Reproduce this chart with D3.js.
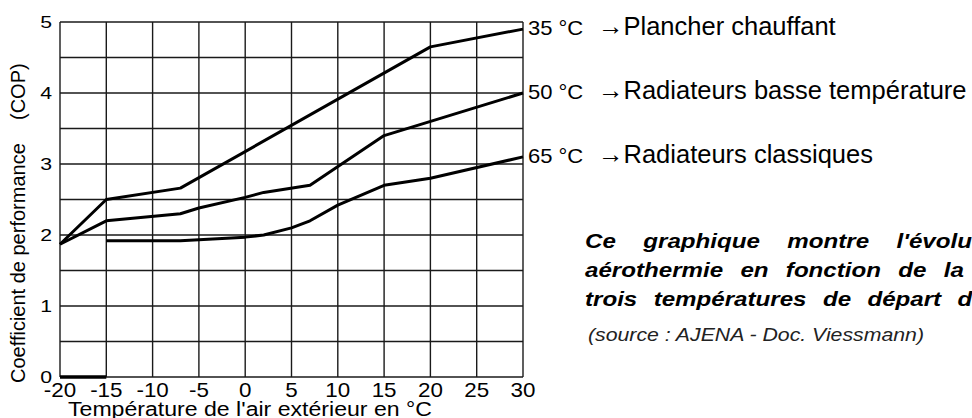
<!DOCTYPE html>
<html>
<head>
<meta charset="utf-8">
<script src="https://cdn.jsdelivr.net/npm/d3@7"></script>
<style>
  body { margin: 0; background: #fff; overflow: hidden; }
  text { font-family: "Liberation Sans", Arial, sans-serif; fill: #000; }
</style>
</head>
<body>
<div id="vis"></div>
<script>

// COP curves (outdoor temp in °C -> COP)
var temp35 = [-20, -15, -7, 20, 30];
var cop35  = [1.87, 2.5, 2.66, 4.65, 4.9];

var temp50 = [-20, -15, -7, -5, 0, 2, 7, 15, 30];
var cop50  = [1.87, 2.2, 2.3, 2.38, 2.53, 2.6, 2.7, 3.4, 4.0];

var temp65 = [-15, -7, 0, 2, 5, 7, 10, 15, 20, 30];
var cop65  = [1.92, 1.92, 1.97, 2.0, 2.1, 2.2, 2.42, 2.7, 2.8, 3.1];

// thick stub on the zero line
var tempBase = [-20, -15];
var copBase  = [0, 0];

var xTicks = [-20, -15, -10, -5, 0, 5, 10, 15, 20, 25, 30];
var yTicks = [0, 1, 2, 3, 4, 5];
var yGrid  = [0, 0.5, 1, 1.5, 2, 2.5, 3, 3.5, 4, 4.5, 5];

var seriesLabels = ["35 °C", "50 °C", "65 °C"];
var usageLabels  = ["→Plancher chauffant", "→Radiateurs basse température", "→Radiateurs classiques"];

var noteLines = [
  "Ce graphique montre l'évolution du COP d'une PAC en",
  "aérothermie en fonction de la température extérieure pour",
  "trois températures de départ d'eau."
];
var sourceText = "(source : AJENA - Doc. Viessmann)";

// set the dimensions and margins of the graph
var W = 972, H = 418;
var margin = {top: 22, left: 60},
    width = 463,
    height = 355;

// the scanned picture is a bit wider than tall, so text gets a small x stretch
var stretch = 1.1;

var x = d3.scaleLinear().domain([-20, 30]).range([0, width]);
var y = d3.scaleLinear().domain([0, 5]).range([height, 0]);

var line = d3.line()
    .x(function(d) { return x(d[0]); })
    .y(function(d) { return y(d[1]); });

var zip = function(a, b) { return a.map(function(v, i) { return [v, b[i]]; }); };

var at = function(px, py, s) {
  return "translate(" + px + "," + py + ") scale(" + s + ",1)";
};

var svgRoot = d3.select("#vis").append("svg")
    .attr("width", W)
    .attr("height", H);

var svg = svgRoot.append("g")
    .attr("transform", "translate(" + margin.left + "," + margin.top + ")");

// grid
svg.selectAll(".vgrid")
    .data(xTicks)
  .enter().append("line")
    .attr("x1", function(d) { return x(d); })
    .attr("x2", function(d) { return x(d); })
    .attr("y1", 0)
    .attr("y2", height)
    .attr("stroke", "#1a1a1a")
    .attr("stroke-width", 1.4);

svg.selectAll(".hgrid")
    .data(yGrid)
  .enter().append("line")
    .attr("x1", 0)
    .attr("x2", width)
    .attr("y1", function(d) { return y(d); })
    .attr("y2", function(d) { return y(d); })
    .attr("stroke", "#1a1a1a")
    .attr("stroke-width", 1.4);

// curves
var curves = [zip(temp35, cop35), zip(temp50, cop50), zip(temp65, cop65)];

svg.selectAll(".curve")
    .data(curves)
  .enter().append("path")
    .attr("fill", "none")
    .attr("stroke", "#000")
    .attr("stroke-width", 3)
    .attr("stroke-linejoin", "round")
    .attr("d", line);

svg.append("path")
    .datum(zip(tempBase, copBase))
    .attr("fill", "none")
    .attr("stroke", "#000")
    .attr("stroke-width", 3.5)
    .attr("d", line);

// y tick labels
svg.selectAll(".ylab")
    .data(yTicks)
  .enter().append("text")
    .attr("transform", function(d) { return at(-8, y(d) + 6, 1.25); })
    .attr("text-anchor", "end")
    .style("font-size", "17px")
    .text(function(d) { return d; });

// x tick labels
svg.selectAll(".xlab")
    .data(xTicks)
  .enter().append("text")
    .attr("transform", function(d) { return at(x(d), height + 20, 1.12); })
    .attr("text-anchor", "middle")
    .style("font-size", "20px")
    .text(function(d) { return d; });

// axis titles
svg.append("text")
    .attr("transform", at(8, height + 39, stretch))
    .style("font-size", "21px")
    .text("Température de l'air extérieur en °C");

svg.append("text")
    .attr("transform", "translate(-35," + (height + 6) + ") rotate(-90)")
    .style("font-size", "20px")
    .text("Coefficient de performance");

svg.append("text")
    .attr("transform", "translate(-35," + y(3.62) + ") rotate(-90)")
    .style("font-size", "20px")
    .text("(COP)");

// curve end labels
var ends = [cop35[cop35.length - 1], cop50[cop50.length - 1], cop65[cop65.length - 1]];

svg.selectAll(".slab")
    .data(seriesLabels)
  .enter().append("text")
    .attr("transform", function(d, i) { return at(width + 5, y(ends[i]) + 6, stretch); })
    .style("font-size", "20px")
    .text(function(d) { return d; });

svg.selectAll(".ulab")
    .data(usageLabels)
  .enter().append("text")
    .attr("x", width + 75)
    .attr("y", function(d, i) { return y(ends[i]) + 6; })
    .style("font-size", "25.5px")
    .text(function(d) { return d; });

// note paragraph (justified in the source, so word spacing differs per line)
var noteSpacing = [18, 9.2, 8.4];
svgRoot.selectAll(".note")
    .data(noteLines)
  .enter().append("text")
    .attr("transform", function(d, i) { return at(585, 248 + i * 29, 1.15); })
    .style("font-size", "21px")
    .style("font-weight", "bold")
    .style("font-style", "italic")
    .style("word-spacing", function(d, i) { return noteSpacing[i] + "px"; })
    .text(function(d) { return d; });

svgRoot.append("text")
    .attr("transform", at(588, 341, 1.12))
    .style("font-size", "19px")
    .style("font-style", "italic")
    .style("fill", "#222")
    .text(sourceText);

</script>
</body>
</html>
